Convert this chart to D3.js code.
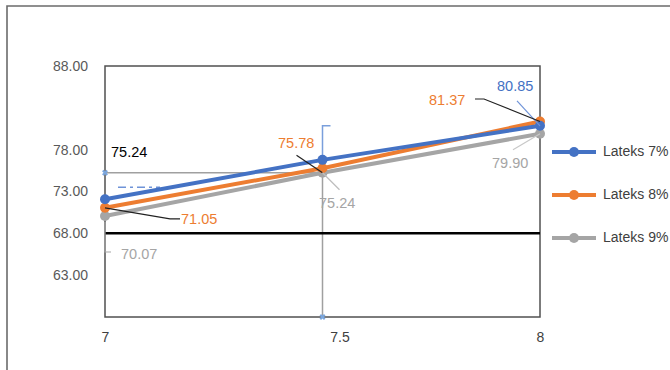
<!DOCTYPE html>
<html>
<head>
<meta charset="utf-8">
<script src="https://cdn.jsdelivr.net/npm/d3@7/dist/d3.min.js"></script>
<style>
  html, body { margin: 0; padding: 0; background: #fff; }
  svg { display: block; font-family: "Liberation Sans", Arial, sans-serif; }
</style>
</head>
<body>
<svg id="chart" width="670" height="370"></svg>
<script>
// Latex content trials: x = dosage level, one series per latex percentage
const xValues = [7, 7.5, 8];
const seriesNames = ["Lateks 7%", "Lateks 8%", "Lateks 9%"];
const lateks7 = [72.07, 76.78, 80.85];
const lateks8 = [71.05, 75.78, 81.37];
const lateks9 = [70.07, 75.24, 79.90];
const yTicks = [88, 78, 73, 68, 63];
const xTicks = [7, 7.5, 8];
const referenceLevel = 68;
const markerPoint = { x: 7.5, y: 75.24 };
const colors = ["#4472C4", "#ED7D31", "#A5A5A5"];

const svg = d3.select("#chart");

// outer frame (top and left edges visible)
svg.append("path")
  .attr("d", "M7,370 V6 H670")
  .attr("fill", "none").attr("stroke", "#6b6b6b").attr("stroke-width", 1.6);

const plot = { left: 105, right: 540, top: 66, bottom: 317 };
const x = d3.scaleLinear().domain([7, 8]).range([plot.left, plot.right]);
const y = d3.scaleLinear().domain([58, 88]).range([plot.bottom, plot.top]);

// plot area border
svg.append("rect")
  .attr("x", plot.left).attr("y", plot.top)
  .attr("width", plot.right - plot.left).attr("height", plot.bottom - plot.top)
  .attr("fill", "none").attr("stroke", "#505050").attr("stroke-width", 1.5);

// y axis labels
const yAxis = d3.axisLeft(y).tickValues(yTicks).tickFormat(d3.format(".2f")).tickSize(0).tickPadding(17);
const gy = svg.append("g").attr("transform", `translate(${plot.left},0)`).call(yAxis);
gy.select(".domain").remove();
gy.selectAll("text").attr("fill", "#595959").attr("font-size", 14).attr("font-family", "Liberation Sans, Arial, sans-serif");

// x axis labels (the middle label sits a little right of its position)
const xAxis = d3.axisBottom(x).tickValues(xTicks).tickFormat(d => String(d)).tickSize(0).tickPadding(15);
const gx = svg.append("g").attr("transform", `translate(0,${plot.bottom})`).call(xAxis);
gx.select(".domain").remove();
gx.selectAll("text").attr("fill", "#404040").attr("font-size", 14).attr("font-family", "Liberation Sans, Arial, sans-serif")
  .attr("dx", d => d === 7.5 ? 17 : 0);

// drop lines to the 7.5 / 75.24 point
svg.append("path")
  .attr("d", `M${x(7)},${y(markerPoint.y)} H${x(markerPoint.x)} V${plot.bottom}`)
  .attr("fill", "none").attr("stroke", "#a0a0a0").attr("stroke-width", 1.5);
svg.append("path")
  .attr("d", `M${x(markerPoint.x)},${y(lateks7[1]) - 3} V${y(80.85)} H${x(markerPoint.x) + 8}`)
  .attr("fill", "none").attr("stroke", "#7a9fdc").attr("stroke-width", 1.5);
[[x(7), y(markerPoint.y)], [x(markerPoint.x), plot.bottom]].forEach(([cx, cy]) => {
  svg.append("path").attr("d", d3.symbol(d3.symbolCross, 22)())
    .attr("transform", `translate(${cx},${cy}) rotate(45)`)
    .attr("fill", "#7aa6de");
});
// short dash-dot mark
svg.append("line")
  .attr("x1", x(7) + 13).attr("x2", x(7) + 55)
  .attr("y1", y(73.5)).attr("y2", y(73.5))
  .attr("stroke", "#6f93d8").attr("stroke-width", 1.5).attr("stroke-dasharray", "8,4,3,4");

// reference line
svg.append("line")
  .attr("x1", x(7)).attr("x2", x(8))
  .attr("y1", y(referenceLevel)).attr("y2", y(referenceLevel))
  .attr("stroke", "#000").attr("stroke-width", 2.5);

// series
const allSeries = [lateks7, lateks8, lateks9];
const line = d3.line().x((d, i) => x(xValues[i])).y(d => y(d));
// draw gray first, blue last
[2, 1, 0].forEach(si => {
  const vals = allSeries[si];
  svg.append("path").datum(vals)
    .attr("d", line).attr("fill", "none")
    .attr("stroke", colors[si]).attr("stroke-width", 4).attr("stroke-linecap", "round");
  svg.selectAll(null).data(vals).enter().append("circle")
    .attr("cx", (d, i) => x(xValues[i])).attr("cy", d => y(d))
    .attr("r", 5).attr("fill", colors[si]);
});

// data labels with leader lines
function leader(pts, color) {
  svg.append("polyline")
    .attr("points", pts.map(p => p.join(",")).join(" "))
    .attr("fill", "none").attr("stroke", color).attr("stroke-width", 1.2);
}
function label(txt, lx, ly, color, anchor) {
  svg.append("text").attr("x", lx).attr("y", ly)
    .attr("fill", color).attr("font-size", 14.5)
    .attr("text-anchor", anchor || "start").attr("dominant-baseline", "middle")
    .text(txt);
}
// black value label for the marked point
label(d3.format(".2f")(markerPoint.y), 111, 153, "#000", "start");

leader([[x(7), y(lateks8[0])], [x(7) + 65, y(lateks8[0]) + 11], [x(7) + 75, y(lateks8[0]) + 11]], "#222");
label(d3.format(".2f")(lateks8[0]), 181, 220, colors[1]);

leader([[x(7), y(lateks9[0]) + 6], [x(7), 252], [x(7) + 6, 252]], "#a5a5a5");
label(d3.format(".2f")(lateks9[0]), 121, 255, "#a5a5a5");

leader([[x(7.5) - 26, y(lateks8[1]) - 13], [x(7.5), y(markerPoint.y)]], "#222");
label(d3.format(".2f")(lateks8[1]), 278, 144, colors[1]);

leader([[x(7.5), y(lateks9[1])], [x(7.5) + 17, y(lateks9[1]) + 17]], "#bdbdbd");
label(d3.format(".2f")(lateks9[1]), 319, 204, "#a5a5a5");

leader([[x(8) - 23, y(lateks7[2]) - 25], [x(8), y(lateks7[2])]], "#6f93d8");
label(d3.format(".2f")(lateks7[2]), 497, 87, colors[0]);

leader([[x(8) - 65, 99], [x(8) - 56, 99], [x(8), y(lateks8[2])]], "#222");
label(d3.format(".2f")(lateks8[2]), 429, 101, colors[1]);

leader([[x(8), y(lateks9[2])], [x(8) - 27, y(lateks9[2]) + 16]], "#c8c8c8");
label(d3.format(".2f")(lateks9[2]), 492, 164, "#a5a5a5");

// legend
const legend = svg.append("g");
seriesNames.forEach((name, i) => {
  const ly = 152 + i * 43;
  legend.append("line").attr("x1", 552).attr("x2", 596).attr("y1", ly).attr("y2", ly)
    .attr("stroke", colors[i]).attr("stroke-width", 4);
  legend.append("circle").attr("cx", 574).attr("cy", ly).attr("r", 5).attr("fill", colors[i]);
  legend.append("text").attr("x", 603).attr("y", ly).attr("dominant-baseline", "middle")
    .attr("font-size", 14).attr("fill", "#404040").text(name);
});
</script>
</body>
</html>
